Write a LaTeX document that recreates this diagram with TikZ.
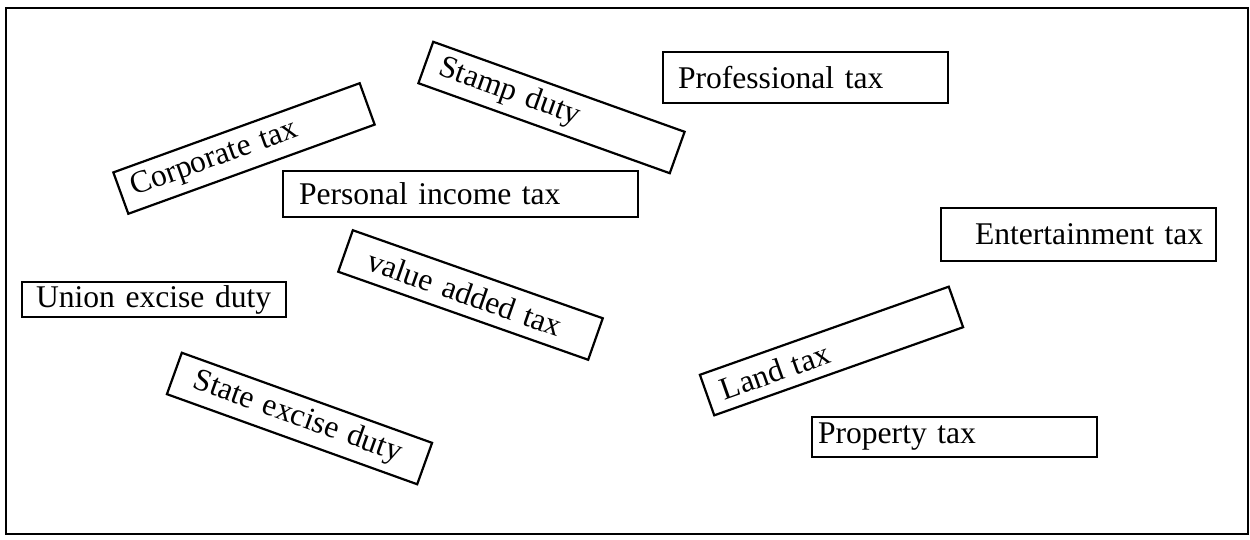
\documentclass[tikz,border=0pt]{standalone}
\usepackage{fontspec}
\setmainfont{Liberation Serif}
\begin{document}
\begin{tikzpicture}[x=1pt,y=-1pt,
  taxbox/.style={draw, line width=2.2pt, inner sep=0pt, align=left,
    font=\fontsize{31.6}{36}\selectfont},
  boxsize/.style n args={3}{text width=#1pt, minimum height=#2pt,
    execute at begin node={\hspace*{#3pt}}}]
  \useasboundingbox (0,0) rectangle (1250,539);
  % outer frame
  \draw[line width=2pt] (6,8) rectangle (1248,534);

  % upright boxes
  \node[taxbox, boxsize={285}{51}{15}] (prof)  at (805.5,77.5)  {Professional tax};
  \node[taxbox, boxsize={355}{46}{16}] (pers)  at (460.5,194)   {Personal income tax};
  \node[taxbox, boxsize={275}{53}{34}] (ent)   at (1078.5,234.5){Entertainment tax};
  \node[taxbox, boxsize={264}{35}{14}] (union) at (154,299.5)   {Union excise duty};
  \node[taxbox, boxsize={285}{40}{6}]  (prop)  at (954.5,437)   {Property tax};

  % tilted boxes
  \node[taxbox, boxsize={262}{44}{12}, rotate=19.9]  (corp)  at (244,148.5) {Corporate tax};
  \node[taxbox, boxsize={267}{44}{15}, rotate=-19.7] (stamp) at (551.5,107.5) {Stamp duty};
  \node[taxbox, boxsize={265}{44}{25}, rotate=-19.4] (vat)   at (470.5,295) {value added tax};
  \node[taxbox, boxsize={266}{44}{21}, rotate=-19.8] (state) at (299.5,418.5) {State excise duty};
  \node[taxbox, boxsize={264}{43}{15}, rotate=19.5]  (land)  at (831.5,351) {Land tax};
\end{tikzpicture}
\end{document}
